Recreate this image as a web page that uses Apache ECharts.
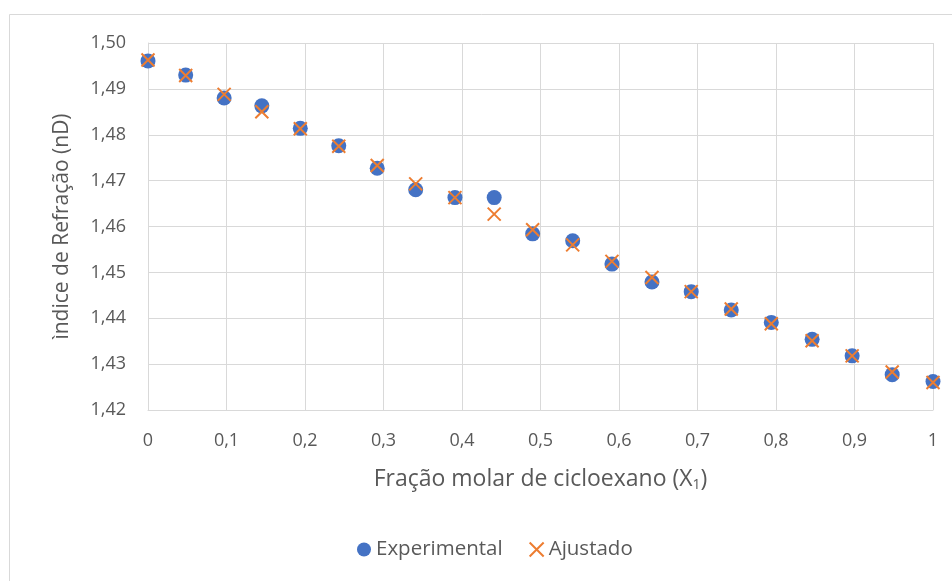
<!DOCTYPE html>
<html>
<head>
<meta charset="utf-8">
<script src="https://cdn.jsdelivr.net/npm/echarts@6/dist/echarts.min.js"></script>
<style>html,body{margin:0;padding:0;background:#fff;}#c{width:952px;height:581px;}</style>
</head>
<body>
<div id="c"></div>
<script>
var xVals = [0, 0.048, 0.097, 0.145, 0.194, 0.243, 0.292, 0.341, 0.391, 0.441, 0.490, 0.541, 0.591, 0.642, 0.692, 0.743, 0.794, 0.846, 0.897, 0.948, 1.0];
var expVals = [1.4961, 1.4930, 1.4880, 1.4863, 1.4814, 1.4776, 1.4727, 1.4680, 1.4663, 1.4663, 1.4584, 1.4569, 1.4518, 1.4479, 1.4458, 1.4418, 1.4391, 1.4354, 1.4318, 1.4277, 1.4262];
var adjVals = [1.4963, 1.4929, 1.4888, 1.4850, 1.4813, 1.4775, 1.4733, 1.4693, 1.4663, 1.4627, 1.4593, 1.4560, 1.4524, 1.4489, 1.4458, 1.4420, 1.4388, 1.4351, 1.4318, 1.4283, 1.4260];
var seriesNames = ['Experimental', 'Ajustado'];
var xTitle = 'Fração molar de cicloexano (X';
var xTitleSub = '1';
var yTitle = 'ìndice de Refração (nD)';

var FONT = '"Open Sans", sans-serif';
var TXT = '#595959';
var GRID = '#d9d9d9';
var crossPath = 'path://M0,0L10,10M10,0L0,10';

function pairs(xs, ys){ return xs.map(function(x,i){ return [x, ys[i]]; }); }

var chart = echarts.init(document.getElementById('c'), null, {renderer:'canvas'});
chart.setOption({
  animation: false,
  backgroundColor: '#fff',
  textStyle: {fontFamily: FONT, color: TXT},
  graphic: [{type:'rect', shape:{x:9.5, y:14.5, width:1000, height:700}, style:{fill:'none', stroke:GRID, lineWidth:1}, silent:true}],
  grid: {left:148, right:19, top:43, bottom:171, containLabel:false},
  xAxis: {
    type:'value', min:0, max:1, interval:0.1,
    name: xTitle + '{sub|' + xTitleSub + '})',
    nameLocation:'middle', nameGap:57,
    nameTextStyle:{fontFamily:FONT, fontSize:23, color:TXT, rich:{sub:{fontFamily:FONT, fontSize:14, color:TXT, verticalAlign:'bottom', padding:[11,0,0,0]}}},
    axisLine:{show:true, lineStyle:{color:GRID, width:1}},
    axisTick:{show:false},
    splitLine:{show:true, lineStyle:{color:GRID, width:1}},
    axisLabel:{fontFamily:FONT, fontSize:18, color:TXT, margin:22,
      formatter:function(v){ if (Math.abs(v)<1e-9) return '0'; if (Math.abs(v-1)<1e-9) return '1'; return v.toFixed(1).replace('.', ','); }}
  },
  yAxis: {
    type:'value', min:1.42, max:1.50, interval:0.01,
    name: yTitle, nameLocation:'middle', nameGap:75, nameRotate:90,
    nameTextStyle:{fontFamily:FONT, fontSize:21, color:TXT},
    axisLine:{show:true, lineStyle:{color:GRID, width:1}},
    axisTick:{show:false},
    splitLine:{show:true, lineStyle:{color:GRID, width:1}},
    axisLabel:{fontFamily:FONT, fontSize:18, color:TXT, margin:22,
      formatter:function(v){ return v.toFixed(2).replace('.', ','); }}
  },
  legend: {
    bottom: 16, left:352, itemGap:26, itemWidth:14, itemHeight:14,
    textStyle:{fontFamily:FONT, fontSize:20.5, color:TXT},
    data:[
      {name:seriesNames[0], icon:'circle', itemStyle:{color:'#4472C4'}},
      {name:seriesNames[1], icon:crossPath, itemStyle:{color:'transparent', borderColor:'#ED7D31', borderWidth:2}}
    ]
  },
  series: [
    {name:seriesNames[0], type:'scatter', symbol:'circle', symbolSize:15, z:2,
     itemStyle:{color:'#4472C4', opacity:1}, data:pairs(xVals, expVals)},
    {name:seriesNames[1], type:'scatter', symbol:crossPath, symbolSize:13, z:3,
     itemStyle:{color:'transparent', borderColor:'#ED7D31', borderWidth:2, opacity:1}, data:pairs(xVals, adjVals)}
  ]
});
</script>
</body>
</html>
